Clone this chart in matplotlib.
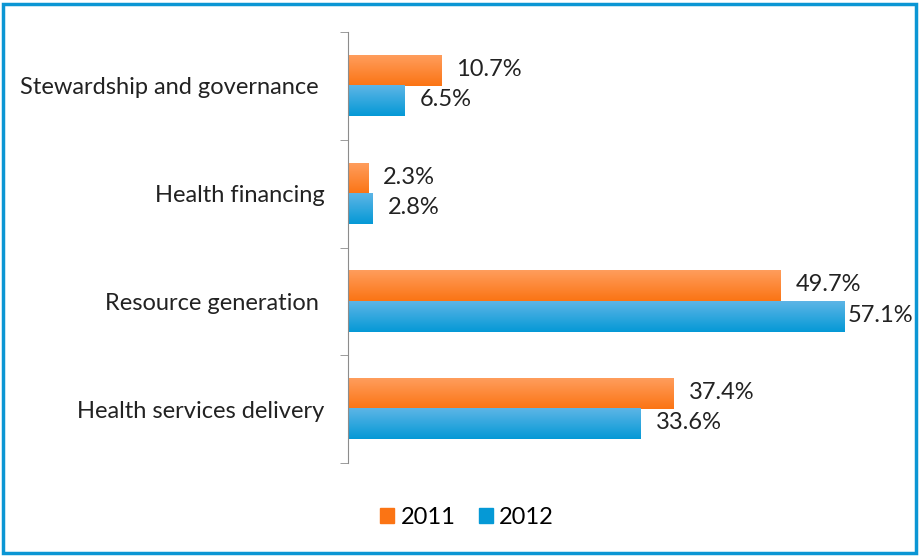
import numpy as np
import matplotlib.pyplot as plt
from matplotlib.colors import LinearSegmentedColormap
from matplotlib.patches import Rectangle

# Share of spending by health system function
categories = ["Stewardship and governance ", "Health financing",
              "Resource generation ", "Health services delivery"]
values_2011 = [10.7, 2.3, 49.7, 37.4]
values_2012 = [6.5, 2.8, 57.1, 33.6]
years = ["2011", "2012"]

orange_top, orange_bot = "#ff9d5c", "#fb7414"
blue_top, blue_bot = "#5db5e6", "#0599d6"

plt.rcParams['font.family'] = ['Lato', 'DejaVu Sans']
FS = 17

fig = plt.figure(figsize=(9.2, 5.56), dpi=100)
ax = fig.add_axes([348 / 920, 1 - 463 / 556, 522 / 920, 431 / 556])

n = len(categories)
y = np.arange(n)[::-1]
h = 0.28

bars_a = ax.barh(y + h / 2, values_2011, height=h, color=orange_bot, label=years[0])
bars_b = ax.barh(y - h / 2, values_2012, height=h, color=blue_bot, label=years[1])


def shade(bars, top, bot):
    # vertical gradient, lighter at the top edge of each bar
    cmap = LinearSegmentedColormap.from_list("g", [bot, top])
    grad = np.linspace(0, 1, 64).reshape(-1, 1)
    for b in bars:
        x0, y0 = b.get_x(), b.get_y()
        w, hh = b.get_width(), b.get_height()
        ax.imshow(grad, cmap=cmap, aspect="auto", origin="lower",
                  extent=(x0, x0 + w, y0, y0 + hh), zorder=2)
        b.set_visible(False)


shade(bars_a, orange_top, orange_bot)
shade(bars_b, blue_top, blue_bot)

vmax = max(values_2011 + values_2012)
for bars, vals in ((bars_a, values_2011), (bars_b, values_2012)):
    for b, v in zip(bars, vals):
        off = 2 if v == vmax else 11
        ax.annotate(f"{v:.1f}%", (v, b.get_y() + b.get_height() / 2),
                    xytext=(off, 1), textcoords="offset points",
                    va="center", ha="left", fontsize=FS, color="#222222")

ax.set_xlim(0, 60)
ax.set_ylim(-0.5, n - 0.5)
ax.set_yticks(y)
ax.set_yticklabels(categories, fontsize=FS, color="#222222")
ax.set_yticks(np.arange(n + 1) - 0.5, minor=True)
ax.tick_params(axis="y", which="major", length=0, pad=17)
ax.tick_params(axis="y", which="minor", length=6, color="#8c8c8c")
ax.set_xticks([])
for s in ("top", "right", "bottom"):
    ax.spines[s].set_visible(False)
ax.spines["left"].set_color("#8c8c8c")

# legend with proxy squares so the swatches stay flat
handles = [Rectangle((0, 0), 1, 1, color=orange_bot), Rectangle((0, 0), 1, 1, color=blue_bot)]
fig.legend(handles, years, loc="center", bbox_to_anchor=(467 / 920, 1 - 517 / 556),
           ncol=2, frameon=False, fontsize=FS, handlelength=0.6, handleheight=0.6,
           handletextpad=0.25, columnspacing=1.0)

# blue frame around the whole chart
fig.patches.append(Rectangle((3 / 920, 3 / 556), 913 / 920, 549 / 556, transform=fig.transFigure,
                             fill=False, edgecolor="#0b96d4", linewidth=2.5))

fig.savefig("out.png", dpi=100)
